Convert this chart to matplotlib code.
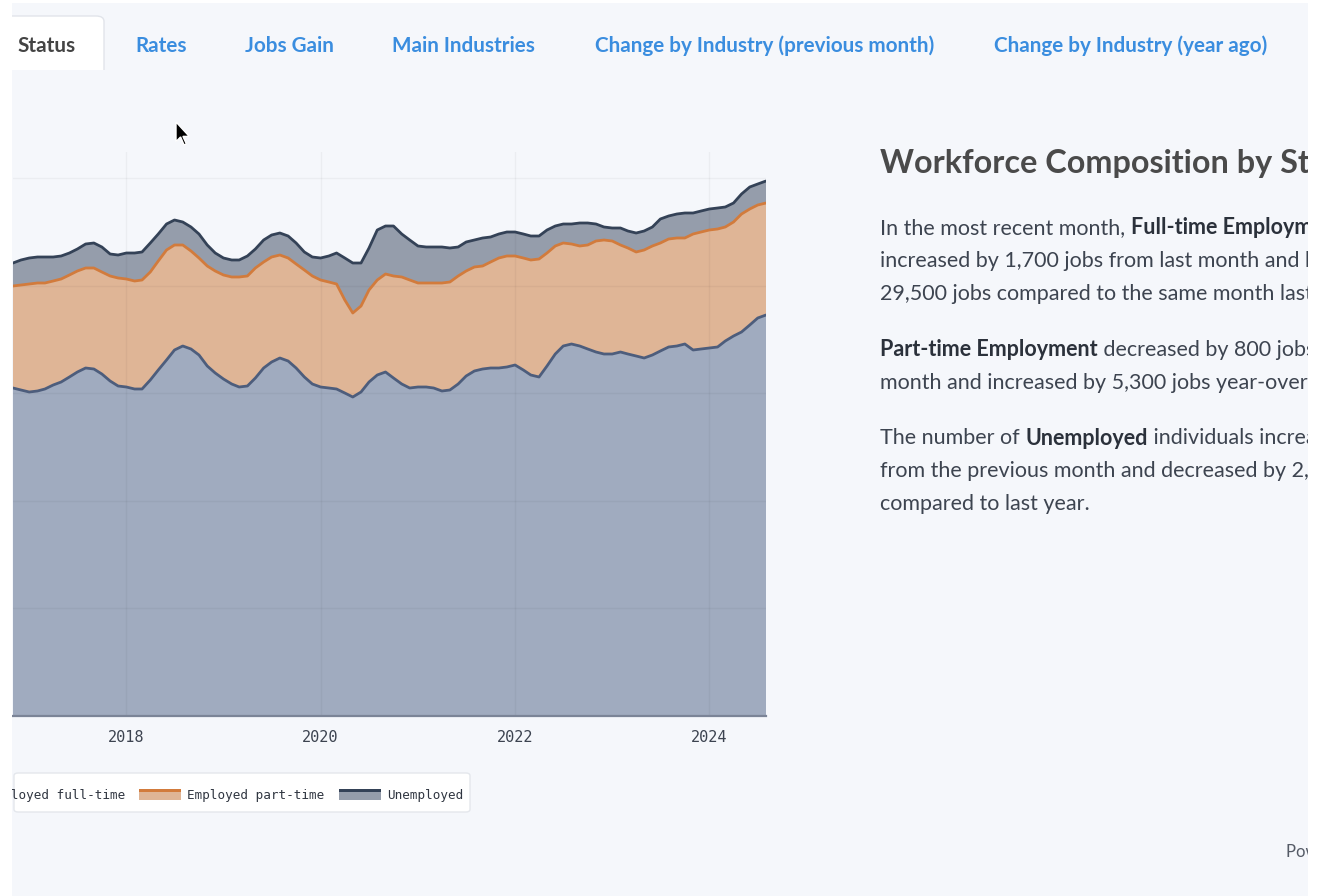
import numpy as np
import pandas as pd
import matplotlib
matplotlib.use("Agg")
import matplotlib.pyplot as plt
import matplotlib.dates as mdates
from matplotlib.ticker import MultipleLocator
from matplotlib.patches import FancyBboxPatch, Rectangle, Polygon
from matplotlib.font_manager import FontProperties

# monthly series, Nov 2016 .. Aug 2024 (thousands)
dates = pd.date_range("2016-11-01", periods=94, freq="MS")

full_time = [328, 326, 324, 325, 327, 331, 334, 339, 344, 348, 347, 342,
             335, 330, 329, 327, 327, 336, 346, 356, 366, 370, 367, 361,
             350, 343, 337, 332, 329, 330, 338, 348, 354, 358, 355, 348,
             339, 332, 329, 328, 327, 323, 319, 324, 334, 341, 344, 338,
             332, 328, 329, 329, 328, 325, 326, 332, 340, 345, 347, 348,
             348, 349, 351, 346, 341, 339, 350, 362, 370, 372, 370, 367,
             364, 362, 362, 364, 362, 360, 358, 361, 365, 369, 370, 372,
             366, 367, 368, 369, 375, 380, 384, 391, 398, 401]

part_time = [102, 105, 108, 108, 106, 104, 103, 102, 101, 100, 101, 102,
             105, 108, 108, 108, 109, 108, 109, 110, 105, 101, 98, 97,
             100, 102, 104, 107, 110, 110, 110, 106, 105, 103, 103, 104,
             107, 108, 107, 106, 105, 93, 84, 86, 92, 95, 98, 102,
             107, 108, 104, 104, 105, 108, 108, 108, 105, 104, 103, 106,
             110, 111, 109, 112, 115, 118, 113, 108, 103, 100, 100, 104,
             111, 114, 113, 107, 106, 104, 108, 109, 108, 108, 108, 106,
             116, 117, 118, 118, 114, 114, 118, 116, 113, 112]

unemployed = [23, 25, 26, 26, 26, 24, 23, 22, 22, 24, 25, 25,
              22, 23, 26, 28, 28, 29, 27, 26, 25, 23, 24, 24,
              21, 18, 17, 17, 17, 20, 19, 22, 22, 22, 22, 21,
              18, 19, 22, 26, 31, 42, 50, 43, 42, 50, 48, 50,
              43, 40, 37, 36, 36, 36, 34, 29, 29, 27, 28, 25,
              24, 24, 24, 24, 24, 23, 23, 20, 19, 20, 23, 22,
              17, 13, 13, 17, 17, 19, 19, 19, 24, 23, 24, 25,
              21, 21, 21, 21, 20, 19, 20, 22, 21, 22]

series_names = ["Employed full-time", "Employed part-time", "Unemployed"]
fill_colors = ["#a0abbf", "#dfb596", "#959dab"]
line_colors = ["#4d5d7c", "#d27b3c", "#344257"]

tabs = ["Status", "Rates", "Jobs Gain", "Main Industries",
        "Change by Industry (previous month)", "Change by Industry (year ago)"]
tab_x = [17, 135, 245, 392, 595, 994]

W, H = 1324, 896
BG = "#f5f7fb"

plt.rcParams["font.family"] = ["Lato", "DejaVu Sans"]

fig = plt.figure(figsize=(W / 100, H / 100), dpi=100)
fig.patch.set_facecolor(BG)


def fx(x):
    return x / W


def fy(y):
    return 1 - y / H


# chart
ax = fig.add_axes([fx(13), fy(716), (766 - 13) / W, (716 - 152) / H])
ax.set_facecolor("none")
ft = np.array(full_time)
pt = np.array(part_time)
un = np.array(unemployed)
ax.stackplot(dates, ft, pt, un, colors=fill_colors, lw=0, zorder=1)
tops = [ft, ft + pt, ft + pt + un]
for top, c in zip(tops, line_colors):
    ax.plot(dates, top, color=c, lw=2.0, zorder=3,
            solid_capstyle="round", solid_joinstyle="round")

ax.set_xlim(dates[0], dates[-1])
ax.set_ylim(0, 564)
ax.yaxis.set_major_locator(MultipleLocator(107.6))
ax.xaxis.set_major_locator(mdates.YearLocator(2))
ax.xaxis.set_major_formatter(mdates.DateFormatter("%Y"))
ax.grid(True, color="black", alpha=0.04, lw=1)
ax.set_axisbelow(False)
for s in ["left", "right", "top"]:
    ax.spines[s].set_visible(False)
ax.spines["bottom"].set_color("#7b8497")
ax.spines["bottom"].set_linewidth(1.6)
ax.spines["bottom"].set_zorder(4)
ax.tick_params(axis="x", length=0, pad=10, labelsize=11, labelcolor="#3c4350")
for lab in ax.get_xticklabels():
    lab.set_family("DejaVu Sans Mono")
ax.tick_params(axis="y", length=0, labelleft=False)

# legend box
fig.patches.append(FancyBboxPatch((fx(14), fy(812)), (470 - 14) / W, 39 / H,
                                  boxstyle="round,pad=0,rounding_size=0.003",
                                  transform=fig.transFigure, facecolor="white",
                                  edgecolor="#e4e7ec", lw=1))
mono = dict(family="DejaVu Sans Mono", fontsize=9.1, color="#2f3540", va="center")
fig.text(fx(125.5), fy(796), series_names[0], ha="right", **mono)
for sx, name, fc, lc in [(139, series_names[1], fill_colors[1], line_colors[1]),
                         (339, series_names[2], fill_colors[2], line_colors[2])]:
    fig.patches.append(Rectangle((fx(sx), fy(800)), 42 / W, 10 / H,
                                 transform=fig.transFigure, facecolor=fc, lw=0))
    fig.patches.append(Rectangle((fx(sx), fy(792)), 42 / W, 3 / H,
                                 transform=fig.transFigure, facecolor=lc, lw=0))
    fig.text(fx(sx + 48), fy(796), name, ha="left", **mono)

# tabs
fig.patches.append(FancyBboxPatch((fx(0), fy(80)), 104 / W, 64 / H,
                                  boxstyle="round,pad=0,rounding_size=0.006",
                                  transform=fig.transFigure, facecolor="white",
                                  edgecolor="#e1e4ea", lw=1))
fig.patches.append(Rectangle((0, fy(84)), 110 / W, 14 / H, transform=fig.transFigure,
                             facecolor=BG, lw=0))
for i, (name, x) in enumerate(zip(tabs, tab_x)):
    fig.text(fx(x), fy(45.5), name, ha="left", va="center", fontsize=14.9,
             fontweight="bold", color="#444444" if i == 0 else "#3a8ddf")

# right panel text
fig.text(fx(880), fy(163), "Workforce Composition by Status", ha="left", va="center",
         fontsize=23.3, fontweight="bold", color="#4a4a4a")

renderer = fig.canvas.get_renderer()
body = 15.5
props = {False: FontProperties(family="Lato", size=body),
         True: FontProperties(family="Lato", size=body, weight="bold")}


def width(s, bold):
    w1 = renderer.get_text_width_height_descent(s + "|", props[bold], ismath=False)[0]
    w0 = renderer.get_text_width_height_descent("|", props[bold], ismath=False)[0]
    return w1 - w0


paragraph_lines = [
    (228, [("In the most recent month, ", False), ("Full-time Employment", True)]),
    (261, [("increased by 1,700 jobs from last month and by", False)]),
    (294, [("29,500 jobs compared to the same month last year.", False)]),
    (350, [("Part-time Employment", True), (" decreased by 800 jobs from last", False)]),
    (383, [("month and increased by 5,300 jobs year-over-year.", False)]),
    (438, [("The number of ", False), ("Unemployed", True),
           (" individuals increased by 1,200", False)]),
    (471, [("from the previous month and decreased by 2,400 jobs", False)]),
    (504, [("compared to last year.", False)]),
]
for y, runs in paragraph_lines:
    x = 880
    for txt, bold in runs:
        fig.text(fx(x), fy(y), txt, ha="left", va="center", fontproperties=props[bold],
                 color="#2b313b" if bold else "#3d4450")
        x += width(txt, bold) * 100 / fig.dpi

fig.text(fx(1286), fy(852), "Powered by", ha="left", va="center", fontsize=12,
         color="#555b66")

# mouse cursor
cur = np.array([(0, 0), (0, 17), (4, 13), (7, 20), (9, 19), (6, 12.5), (11.5, 12.5)]) * 1.15
cur = cur + np.array([176, 122])
fig.patches.append(Polygon([(fx(a), fy(b)) for a, b in cur], closed=True,
                           transform=fig.transFigure, facecolor="black",
                           edgecolor="white", lw=1, zorder=20))

# page edges
for r in [(0, 0, 12, H), (1308, 0, 16, H), (0, 0, W, 3)]:
    x0, y0, w, h = r
    fig.patches.append(Rectangle((fx(x0), fy(y0 + h)), w / W, h / H,
                                 transform=fig.transFigure, facecolor="white",
                                 lw=0, zorder=30))

fig.savefig("out.png", dpi=100, facecolor=BG)
